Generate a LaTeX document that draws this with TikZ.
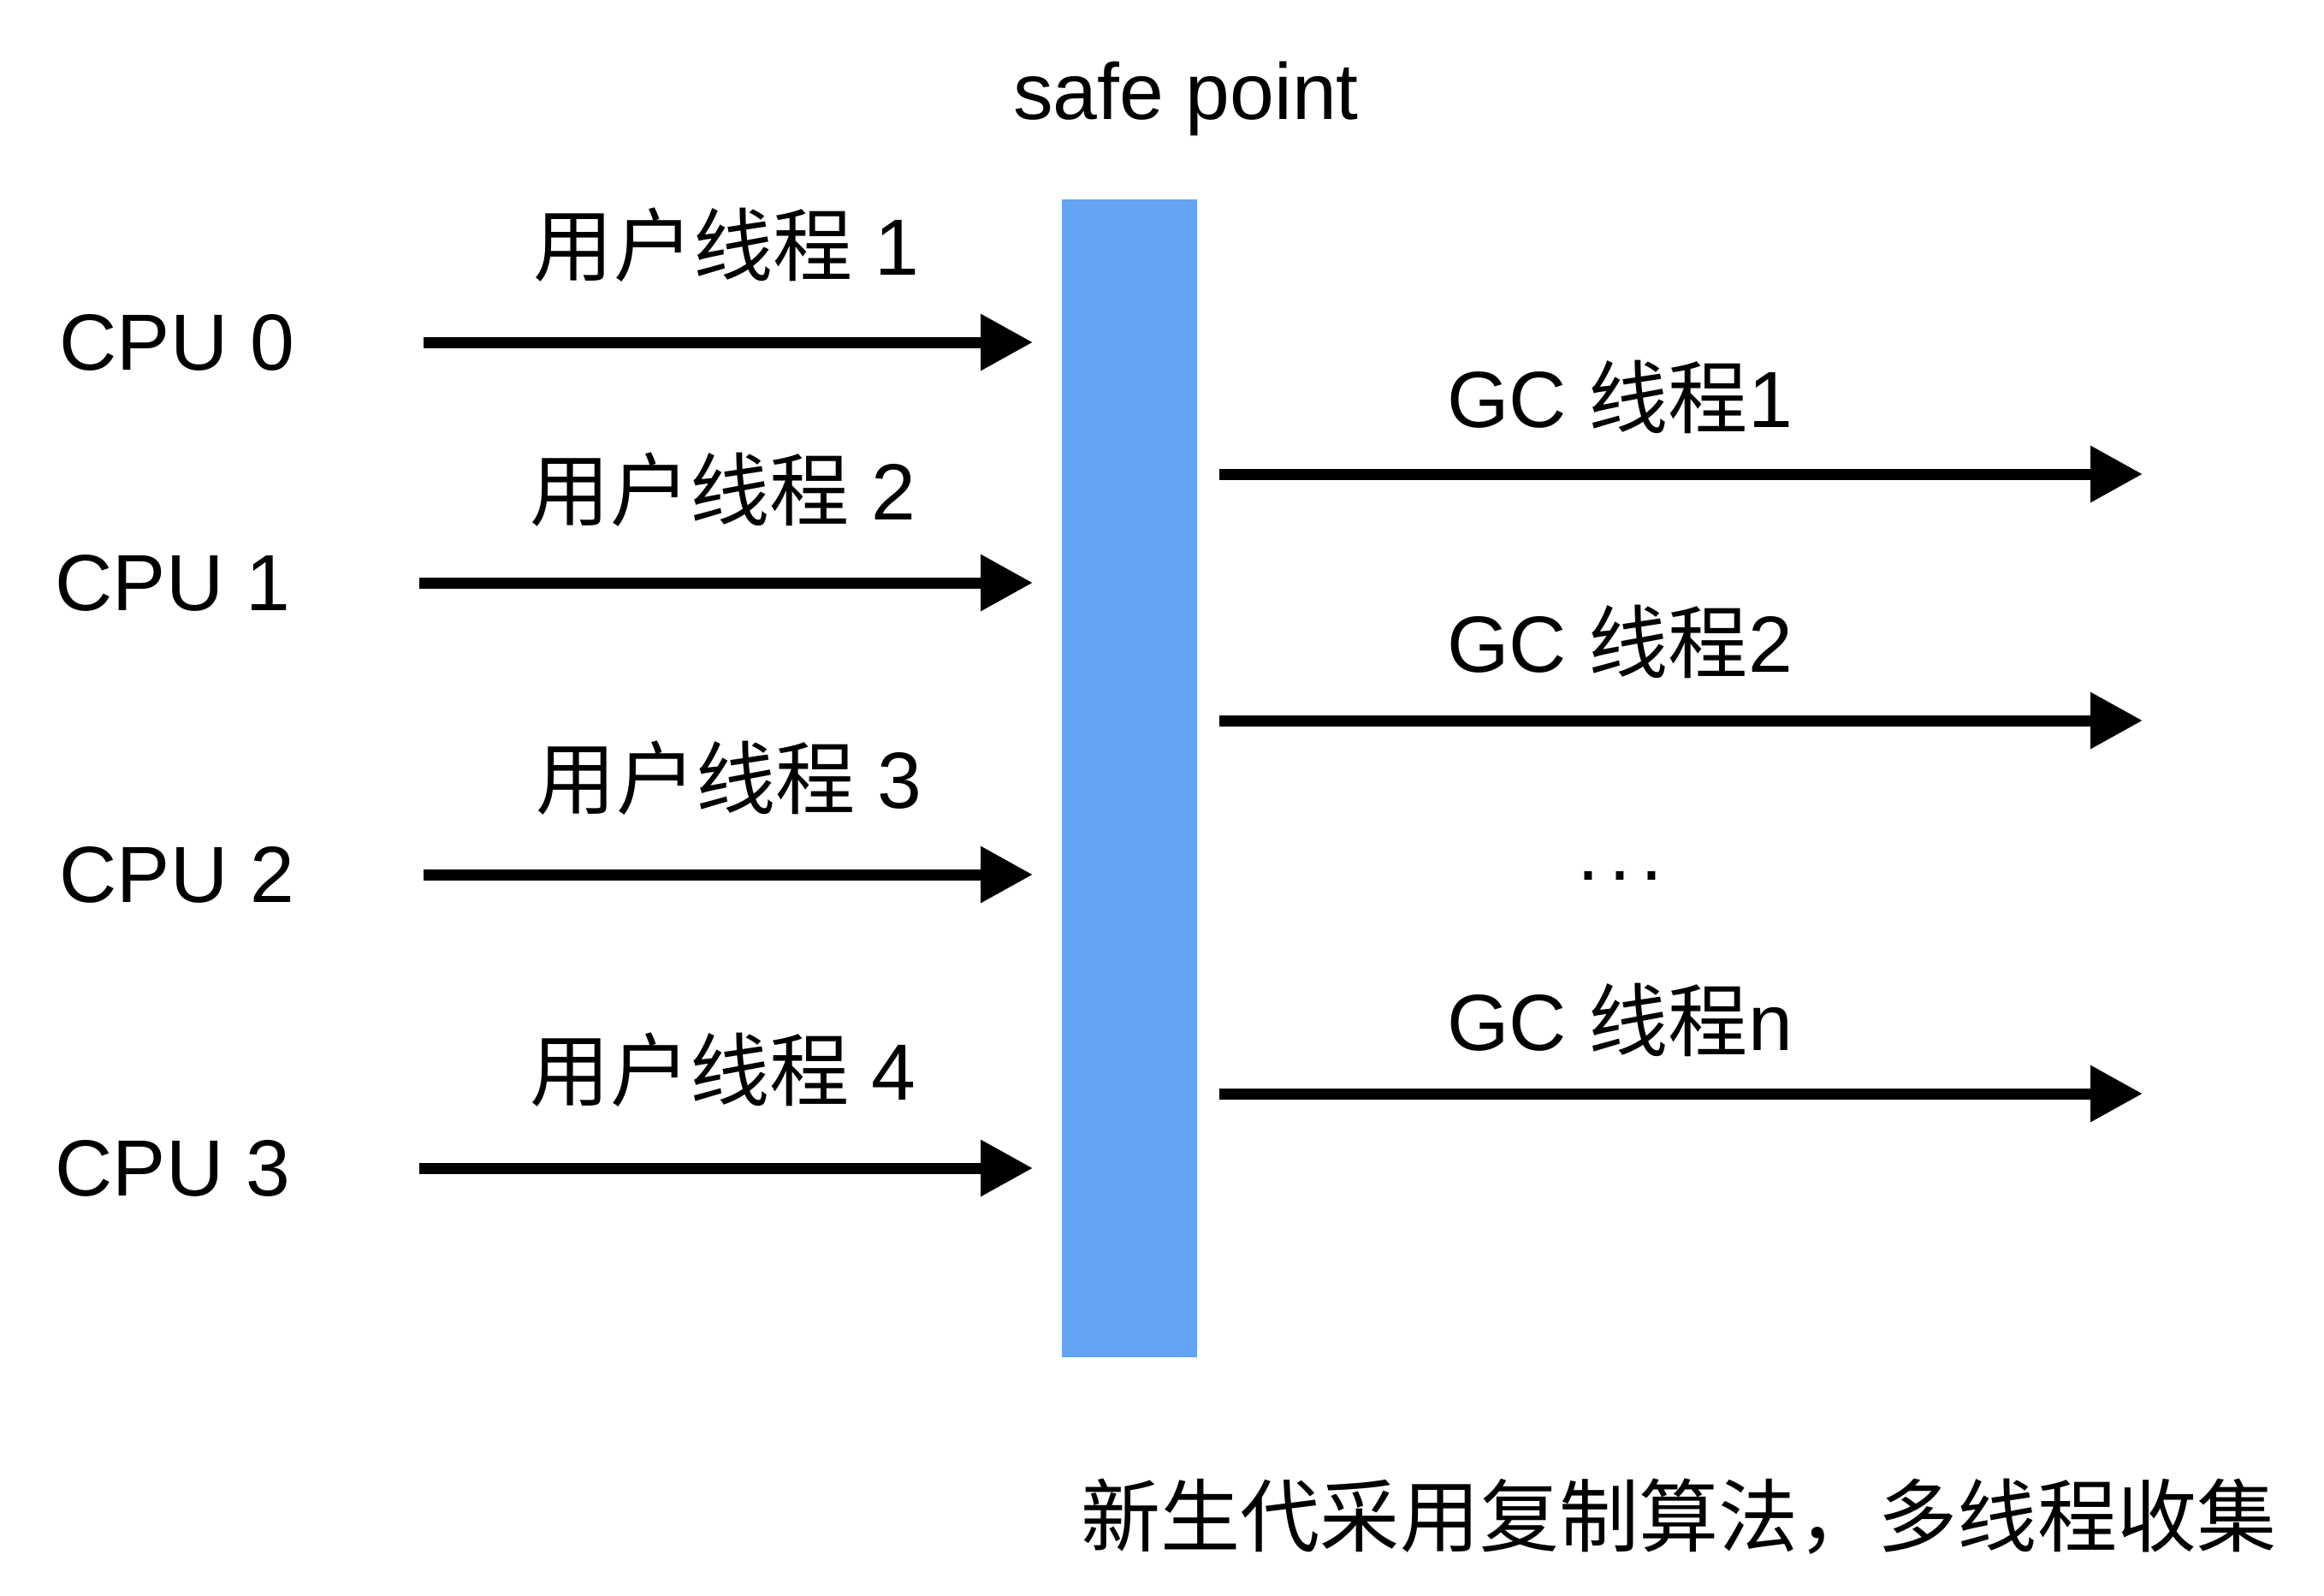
\documentclass[tikz,border=0pt]{standalone}
\usepackage{fontspec}
\setmainfont{Liberation Sans}
\newfontfamily\cjk{Noto Sans CJK SC}
\usetikzlibrary{arrows.meta,calc}
\definecolor{spblue}{RGB}{99,164,244}

\begin{document}
\begin{tikzpicture}[
    lbl/.style={font=\fontsize{26.5}{30}\selectfont, inner sep=0pt},
    arr/.style={line width=0.13cm, -{Triangle[length=0.61cm, width=0.63cm]}}]
    \useasboundingbox (0,0) rectangle (27.16,-18.64);

    % safe point bar
    \node[fill=spblue, inner sep=0pt, minimum width=1.58cm, minimum height=13.53cm, anchor=north west] (bar) at (12.40,-2.32) {};
    \node[lbl, anchor=base] (sp) at (13.86,-1.39) {safe point};

    % CPUs and user threads
    \node[lbl, anchor=west] (cpu0) at (0.69,-4.00) {CPU 0};
    \node[lbl, anchor=west] (cpu1) at (0.64,-6.81) {CPU 1};
    \node[lbl, anchor=west] (cpu2) at (0.69,-10.22) {CPU 2};
    \node[lbl, anchor=west] (cpu3) at (0.64,-13.65) {CPU 3};

    \node[lbl] (ut1) at (8.49,-2.86) {{\cjk 用户线程} 1};
    \node[lbl] (ut2) at (8.45,-5.72) {{\cjk 用户线程} 2};
    \node[lbl] (ut3) at (8.52,-9.09) {{\cjk 用户线程} 3};
    \node[lbl] (ut4) at (8.45,-12.50) {{\cjk 用户线程} 4};

    \coordinate (s0) at (4.95,-4.00);
    \coordinate (s1) at (4.90,-6.81);
    \coordinate (s2) at (4.95,-10.22);
    \coordinate (s3) at (4.90,-13.65);

    \draw[arr, shorten >=0.33cm] (s0) -- (s0 -| bar.west);
    \draw[arr, shorten >=0.33cm] (s1) -- (s1 -| bar.west);
    \draw[arr, shorten >=0.33cm] (s2) -- (s2 -| bar.west);
    \draw[arr, shorten >=0.33cm] (s3) -- (s3 -| bar.west);

    % GC threads
    \node[lbl] (gc1) at (18.93,-4.64) {GC {\cjk 线程}1};
    \node[lbl] (gc2) at (18.93,-7.50) {GC {\cjk 线程}2};
    \node[lbl, anchor=base] (gcdots) at (18.93,-10.28) {.\hspace{0.12em}.\hspace{0.12em}.};
    \node[lbl] (gcn) at (18.93,-11.92) {GC {\cjk 线程}n};

    \coordinate (g1) at (25.04,-5.54);
    \coordinate (g2) at (25.04,-8.42);
    \coordinate (gn) at (25.04,-12.78);

    \draw[arr, shorten <=0.26cm] (g1 -| bar.east) -- (g1);
    \draw[arr, shorten <=0.26cm] (g2 -| bar.east) -- (g2);
    \draw[arr, shorten <=0.26cm] (gn -| bar.east) -- (gn);

    % note
    \node[lbl] (note) at (19.62,-17.72) {\cjk 新生代采用复制算法，多线程收集};
\end{tikzpicture}
\end{document}
